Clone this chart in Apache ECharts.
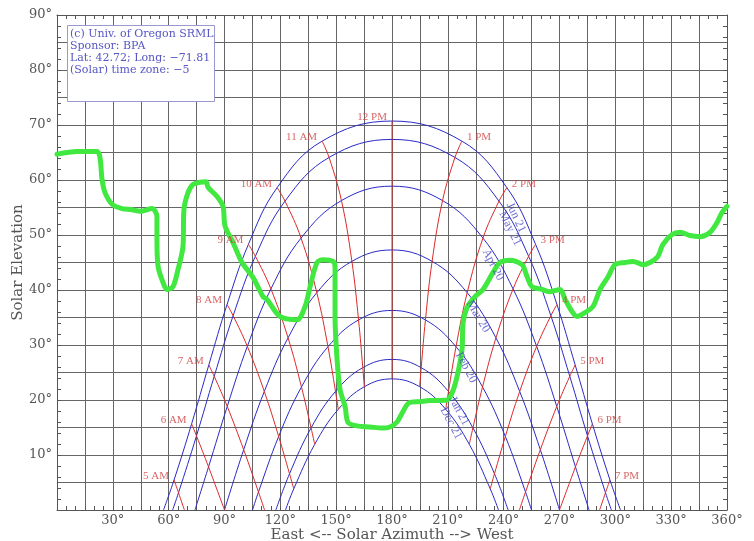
<!DOCTYPE html>
<html><head><meta charset="utf-8">
<script src="https://cdn.jsdelivr.net/npm/echarts@6/dist/echarts.min.js"></script>
<style>html,body{margin:0;padding:0;background:#fff}#c{width:754px;height:541px}</style>
</head><body><div id="c"></div>
<script>
// ---------- DATA ----------
const hourNames = ['5 AM','6 AM','7 AM','8 AM','9 AM','10 AM','11 AM','12 PM','1 PM','2 PM','3 PM','4 PM','5 PM','6 PM','7 PM'];
const dateNames = ['Jun 21','May 21','Apr 20','Mar 20','Feb 20','Jan 21','Dec 21'];

// azimuth / elevation of the sun at each hour (5 AM .. 7 PM), null = below horizon
const junAz = [62.90, 72.33, 81.58, 91.37, 102.84, 118.28, 142.45, 180, 217.55, 241.72, 257.16, 268.63, 278.42, 287.67, 297.10];
const junEl = [5.47, 15.65, 26.38, 37.37, 48.29, 58.61, 67.07, 70.72, 67.07, 58.61, 48.29, 37.37, 26.38, 15.65, 5.47];
const junRiseSet = [57.22, 302.78];

const mayAz = [65.29, 74.95, 84.48, 94.64, 106.60, 122.51, 146.18, 180, 213.82, 237.49, 253.40, 265.36, 275.52, 285.05, 294.71];
const mayEl = [3.13, 13.48, 24.31, 35.32, 46.14, 56.16, 64.10, 67.38, 64.10, 56.16, 46.14, 35.32, 24.31, 13.48, 3.13];
const mayRiseSet = [62.11, 297.89];

const aprAz = [null, 81.42, 91.47, 102.27, 114.94, 131.13, 152.84, 180, 207.16, 228.87, 245.06, 257.73, 268.53, 278.58, null];
const aprEl = [null, 7.84, 18.83, 29.75, 40.19, 49.44, 56.26, 58.88, 56.26, 49.44, 40.19, 29.75, 18.83, 7.84, null];
const aprRiseSet = [74.12, 285.88];

const marAz = [null, 90, 100.30, 111.39, 124.15, 139.60, 158.45, 180, 201.55, 220.40, 235.85, 248.61, 259.70, 270, null];
const marEl = [null, 0, 10.96, 21.55, 31.30, 39.51, 45.21, 47.28, 45.21, 39.51, 31.30, 21.55, 10.96, 0, null];
const marRiseSet = [90, 270];

const febAz = [null, null, 108.25, 119.10, 131.36, 145.60, 162.03, 180, 197.97, 214.40, 228.64, 240.90, 251.75, null, null];
const febEl = [null, null, 3.28, 13.37, 22.37, 29.68, 34.56, 36.28, 34.56, 29.68, 22.37, 13.37, 3.28, null, null];
const febRiseSet = [105.05, 254.95];

const janAz = [null, null, null, 124.94, 136.52, 149.64, 164.31, 180, 195.69, 210.36, 223.48, 235.06, null, null, null];
const janEl = [null, null, null, 6.58, 14.93, 21.56, 25.88, 27.38, 25.88, 21.56, 14.93, 6.58, null, null, null];
const janRiseSet = [117.60, 242.40];

const decAz = [null, null, null, 127.21, 138.47, 151.11, 165.12, 180, 194.88, 208.89, 221.53, 232.79, null, null, null];
const decEl = [null, null, null, 3.85, 11.94, 18.30, 22.41, 23.84, 22.41, 18.30, 11.94, 3.85, null, null, null];
const decRiseSet = [122.78, 237.22];

// azimuth where an hour line meets the horizon below the last date curve
const hourHorizonAz = [68.45, null, 111.55, null, null, null, null, null, null, null, null, null, 248.45, null, 291.55];

// horizon (obstruction) profile, hand-drawn green line
const horizonAz = [0,10.8,21.5,23.1,24.2,25.8,29.6,34.9,40.3,44.6,51.1,53.7,53.7,54.3,56.4,59.1,62.3,65.0,67.7,68.2,70.4,73.1,76.8,80.1,81.1,86.0,89.2,90.3,94.6,99.4,105.3,110.7,112.8,119.8,129.0,133.3,136.0,139.7,142.9,148.3,149.4,149.4,150.5,152.1,154.8,156.4,161.2,168.2,174.6,178.9,182.7,185.9,189.2,195.1,200.4,209.6,212.3,214.9,217.6,218.2,220.3,224.6,228.9,234.3,238.0,243.4,249.9,252.6,255.2,260.6,264.9,270.3,273.0,276.7,279.4,283.7,288.0,291.8,296.1,299.8,305.2,309.5,314.9,322.4,325.6,330.5,334.8,340.1,345.5,350.9,354.7,357.3,360];
const horizonEl = [64.7,65.2,65.2,64.1,60.1,57.7,55.6,54.8,54.6,54.3,54.8,53.4,49.2,44.3,41.9,40.1,40.6,43.7,47.9,54.6,57.7,59.2,59.6,59.7,58.7,57.0,55.2,51.6,48.6,45.0,42.3,38.8,38.3,35.2,34.6,37.0,40.6,45.0,45.5,45.2,44.1,35.2,27.3,21.9,18.8,15.9,15.3,15.1,14.9,15.1,16.0,17.9,19.5,19.7,19.9,20.0,21.3,24.2,29.1,34.1,36.8,38.8,40.1,43.2,45.0,45.4,44.6,42.4,40.6,40.1,39.7,40.1,38.3,36.1,35.2,35.9,37.0,40.1,42.4,44.6,45.0,45.2,44.6,45.9,48.3,50.1,50.5,49.9,49.7,50.5,52.3,54.1,55.2];

const infoLines = ['(c) Univ. of Oregon SRML', 'Sponsor: BPA', 'Lat: 42.72; Long: \u221271.81', '(Solar) time zone: \u22125'];

// ---------- LAYOUT / STYLE ----------
const dateLabelAnchor = [[246.6,53.2],[243.4,51.2],[234.3,44.6],[226.2,35.2],[219.8,25.9],[216.0,18.0],[211.7,15.8]];
const dateLabelRotate = [-65,-64,-63,-59,-62,-62,-62];

const SERIF = '"DejaVu Serif", serif';
const SERIF2 = '"Liberation Serif", serif';
const BLUE = '#2a2ac6', RED = '#dc2a2a', GRIDC = '#666666', AXISC = '#555555', TXT = '#555555';
const GREEN = '#40e840';

const dates = [
  [junAz, junEl, junRiseSet], [mayAz, mayEl, mayRiseSet], [aprAz, aprEl, aprRiseSet],
  [marAz, marEl, marRiseSet], [febAz, febEl, febRiseSet], [janAz, janEl, janRiseSet], [decAz, decEl, decRiseSet]
];

const series = [];
dates.forEach(function (d) {
  const pts = [[d[2][0], 0]];
  for (let i = 0; i < d[0].length; i++) {
    if (d[1][i] != null && d[1][i] > 0) pts.push([d[0][i], d[1][i]]);
  }
  pts.push([d[2][1], 0]);
  series.push({type: 'line', data: pts, smooth: 0.4, showSymbol: false, silent: true,
    lineStyle: {color: BLUE, width: 1}, z: 3});
});
hourNames.forEach(function (h, i) {
  const pts = [];
  dates.forEach(function (d) { if (d[1][i] != null) pts.push([d[0][i], d[1][i]]); });
  if (hourHorizonAz[i] != null) pts.push([hourHorizonAz[i], 0]);
  series.push({type: 'line', data: pts, smooth: 0.4, showSymbol: false, silent: true,
    lineStyle: {color: RED, width: 1}, z: 4});
});
series.push({type: 'line', data: horizonAz.map(function (a, i) { return [a, horizonEl[i]]; }),
  smooth: 0.3, showSymbol: false, silent: true, z: 6,
  lineStyle: {color: GREEN, width: 5, cap: 'round', join: 'round'}});
series.push({type: 'scatter', symbolSize: 0, silent: true, z: 7,
  data: hourNames.map(function (h, i) {
    return {value: [junAz[i], junEl[i]], label: {show: true, formatter: h, position: i <= 7 ? 'left' : 'right',
      distance: 5, offset: [0, -4], color: '#d04040', fontFamily: SERIF2, fontSize: 11}};
  })});
series.push({type: 'scatter', symbolSize: 0, silent: true, z: 7,
  data: dateNames.map(function (n, i) {
    return {value: dateLabelAnchor[i], label: {show: true, formatter: n, position: 'inside', rotate: dateLabelRotate[i],
      color: '#4848c0', fontFamily: SERIF2, fontSize: 12}};
  })});

const tickStyle = {show: true, inside: true, length: 4, lineStyle: {color: AXISC, width: 1}};
const lineOn = {show: true, onZero: false, lineStyle: {color: AXISC, width: 1}};
const option = {
  animation: false,
  backgroundColor: '#fff',
  grid: {left: 57, right: 27, top: 15, bottom: 31, containLabel: false, outerBoundsMode: 'none'},
  xAxis: [
    {type: 'value', min: 0, max: 360, interval: 5, position: 'bottom', axisLine: lineOn, axisTick: tickStyle,
      splitLine: {show: false},
      axisLabel: {formatter: function (v) { return (v > 0 && v % 30 === 0) ? v + '\u00b0' : ''; }, color: TXT,
        fontFamily: SERIF, fontSize: 13, margin: 4},
      name: 'East <-- Solar Azimuth --> West', nameLocation: 'middle', nameGap: 18, nameMoveOverlap: false,
      nameTextStyle: {color: TXT, fontFamily: SERIF, fontSize: 15}},
    {type: 'value', min: 0, max: 360, interval: 5, position: 'top', axisLine: lineOn, axisTick: tickStyle,
      axisLabel: {show: false}, splitLine: {show: false}},
    {type: 'value', min: 0, max: 360, interval: 15, position: 'bottom', axisLine: {show: false}, axisTick: {show: false},
      axisLabel: {show: false}, splitLine: {show: true, lineStyle: {color: GRIDC, width: 1}}}
  ],
  yAxis: [
    {type: 'value', min: 0, max: 90, interval: 2, position: 'left', axisLine: lineOn, axisTick: tickStyle,
      splitLine: {show: false},
      axisLabel: {formatter: function (v) { return (v > 0 && v % 10 === 0) ? v + '\u00b0' : ''; }, color: TXT,
        fontFamily: SERIF, fontSize: 13, margin: 5},
      name: 'Solar Elevation', nameLocation: 'middle', nameGap: 31, nameMoveOverlap: false,
      nameTextStyle: {color: TXT, fontFamily: SERIF, fontSize: 15}},
    {type: 'value', min: 0, max: 90, interval: 2, position: 'right', axisLine: lineOn, axisTick: tickStyle,
      axisLabel: {show: false}, splitLine: {show: false}},
    {type: 'value', min: 0, max: 90, interval: 5, position: 'left', axisLine: {show: false}, axisTick: {show: false},
      axisLabel: {show: false}, splitLine: {show: true, lineStyle: {color: GRIDC, width: 1}}}
  ],
  graphic: [
    {type: 'rect', z: 100, shape: {x: 67.5, y: 25.5, width: 147, height: 76},
      style: {fill: '#ffffff', stroke: '#9a9ad0', lineWidth: 1}},
    {type: 'text', z: 101, x: 70, y: 28,
      style: {text: infoLines.join('\n'), font: '11px "DejaVu Serif"', fill: '#5656c6', lineHeight: 12}}
  ],
  series: series
};
const chart = echarts.init(document.getElementById('c'), null, {renderer: 'canvas'});
chart.setOption(option);
</script>
</body></html>
